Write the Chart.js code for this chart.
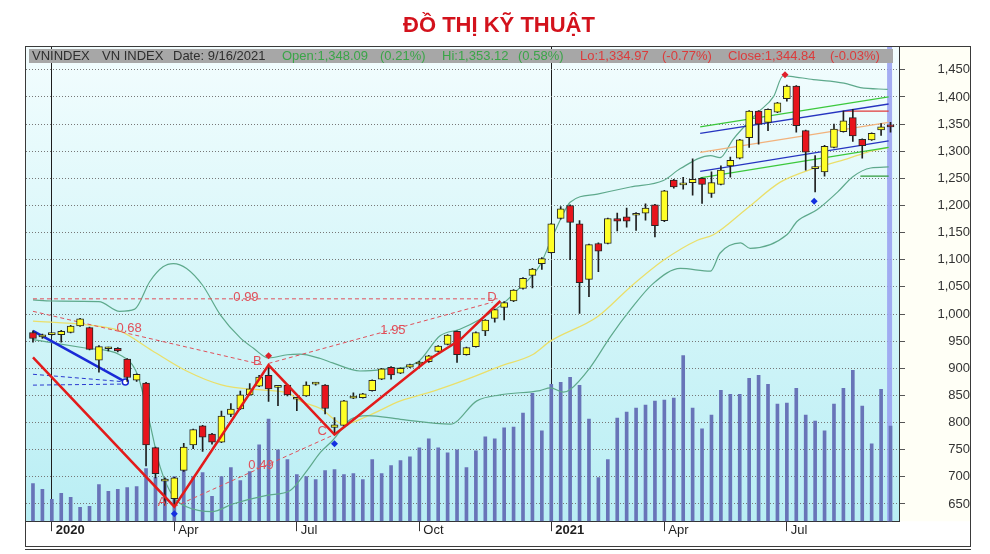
<!DOCTYPE html>
<html lang="vi">
<head>
<meta charset="utf-8">
<title>Đồ thị kỹ thuật – VN-Index</title>
<script src="https://cdn.jsdelivr.net/npm/chart.js@4.4.1/dist/chart.umd.min.js"></script>
<style>
  html, body { margin: 0; padding: 0; background: #fff; }
  #wrap { position: relative; width: 990px; height: 554px; overflow: hidden; }
  #chart { position: absolute; left: 0; top: 0; }
  #title {
    position: absolute; left: 0; top: 12px; width: 998px; text-align: center;
    font: bold 22px "Liberation Sans", Arial, sans-serif;
    color: #d3121c;
  }
</style>
</head>
<body>
<div id="wrap">
  <canvas id="chart" width="990" height="554"></canvas>
  <div id="title">ĐỒ THỊ KỸ THUẬT</div>
</div>
<script>
/* --------------------------------------------------------------
   DỮ LIỆU – nến tuần VN-Index (cuối 12/2019 -> 16/9/2021)
   -------------------------------------------------------------- */
const opens = [966, 958, 962, 962, 966, 978, 975, 915, 936, 937,
  917, 878, 873, 754, 692, 660, 712, 759, 794, 779,
  764, 815, 825, 851, 867, 887, 865, 869, 843, 849,
  871, 869, 791, 795, 845, 846, 859, 880, 902, 891,
  902, 908, 912, 931, 944, 968, 925, 940, 969, 992,
  1012, 1024, 1047, 1071, 1093, 1113, 1176, 1200, 1166, 1064,
  1130, 1130, 1176, 1179, 1182, 1186, 1201, 1172, 1247, 1238,
  1242, 1250, 1222, 1239, 1273, 1287, 1325, 1374, 1353, 1372,
  1397, 1420, 1338, 1268, 1262, 1307, 1336, 1362, 1322, 1321,
  1339, 1348.09];
const highs = [969, 963, 964, 970, 979, 992, 976, 942, 939, 938,
  918, 890, 874, 755, 698, 699, 762, 788, 795, 780,
  821, 835, 858, 872, 887, 906, 867, 870, 845, 875,
  874, 870, 809, 841, 855, 854, 879, 900, 903, 901,
  908, 913, 924, 942, 962, 969, 939, 967, 990, 1009,
  1023, 1045, 1067, 1084, 1104, 1167, 1198, 1201, 1172, 1129,
  1131, 1177, 1186, 1195, 1187, 1203, 1202, 1228, 1248, 1252,
  1286, 1251, 1262, 1273, 1289, 1322, 1375, 1375, 1378, 1390,
  1422, 1421, 1339, 1292, 1311, 1350, 1374, 1377, 1323, 1334,
  1351, 1353.12];
const lows = [948, 955, 961, 948, 965, 977, 934, 893, 932, 930,
  876, 876, 720, 698, 648, 645, 710, 752, 747, 760,
  763, 811, 824, 850, 866, 839, 831, 849, 822, 848,
  869, 816, 778, 794, 844, 845, 858, 879, 880, 890,
  901, 904, 911, 930, 943, 911, 924, 939, 960, 985,
  989, 1023, 1046, 1048, 1082, 1112, 1175, 1100, 1001, 1032,
  1078, 1129, 1153, 1160, 1154, 1173, 1142, 1170, 1232, 1230,
  1219, 1204, 1215, 1238, 1252, 1286, 1307, 1313, 1338, 1371,
  1392, 1335, 1265, 1225, 1254, 1306, 1335, 1318, 1287, 1320,
  1329, 1334.97];
const closes = [955, 961, 963, 968, 978, 991, 935, 940, 937, 932,
  883, 889, 759, 706, 693, 698, 755, 787, 773, 764,
  812, 825, 851, 862, 884, 862, 866, 851, 844, 869,
  872, 826, 796, 840, 849, 853, 878, 899, 888, 900,
  907, 909, 923, 941, 961, 925, 938, 966, 989, 1008,
  1021, 1044, 1066, 1083, 1102, 1166, 1194, 1169, 1058, 1128,
  1116, 1176, 1171, 1171, 1183, 1195, 1163, 1227, 1234, 1239,
  1248, 1239, 1242, 1265, 1283, 1321, 1374, 1350, 1377, 1389,
  1420, 1347, 1298, 1269, 1309, 1341, 1356, 1328, 1310, 1333,
  1345, 1344.84];
// khối lượng (đơn vị tương đối, đọc theo chiều cao cột)
const volumes = [190, 160, 110, 140, 120, 70, 75, 185, 150, 160,
  170, 175, 265, 220, 215, 225, 255, 225, 245, 125,
  225, 270, 205, 250, 385, 515, 360, 310, 235, 225,
  210, 255, 260, 235, 240, 210, 310, 240, 280, 305,
  325, 370, 415, 370, 345, 360, 270, 355, 425, 415,
  470, 475, 545, 645, 455, 690, 700, 725, 685, 515,
  220, 310, 520, 550, 570, 585, 605, 610, 620, 835,
  570, 465, 535, 660, 640, 640, 720, 735, 690, 590,
  595, 670, 535, 505, 455, 590, 670, 760, 580, 390,
  665, 480];

// trục thời gian: chỉ số tuần -> nhãn
const tickIdx  = [2, 15, 28, 41, 55, 67, 80];
const tickText = ['2020', 'Apr', 'Jul', 'Oct', '2021', 'Apr', 'Jul'];
const priceTicks = [650, 700, 750, 800, 850, 900, 950, 1000, 1050, 1100, 1150, 1200, 1250, 1300, 1350, 1400, 1450];

// Bollinger + MA  [chỉ số tuần, giá]
const upperBand = [[0, 1026], [2, 1024], [7, 1023], [9.2, 1005], [10.8, 1009], [12.4, 1060], [13.8, 1087],
  [14.9, 1093], [16.3, 1084], [18, 1053], [19.9, 998], [22, 956], [23.4, 937], [25, 919], [27, 925],
  [28.3, 926], [30.5, 918], [31.8, 910], [34.7, 895], [37.2, 898], [40.8, 911], [43.2, 960], [45.3, 972],
  [47.5, 991], [49.6, 1015], [51.4, 1044], [53.8, 1090], [54.9, 1133], [56, 1175], [57, 1206], [59.9, 1221],
  [63.4, 1234], [66.9, 1246], [68.7, 1268], [71.9, 1292], [72.9, 1288], [74.3, 1322], [76.9, 1371],
  [78.6, 1401], [79.6, 1439], [80.4, 1438], [82.8, 1432], [84.6, 1429], [86.4, 1424], [87.8, 1417], [90.7, 1414]];
const lowerBand = [[0, 953], [2.1, 947], [5.7, 937], [9.2, 925], [11.1, 888], [12.1, 822], [13.5, 718],
  [14.9, 663], [16.3, 645], [19, 636], [21.2, 650], [24.8, 666], [27.3, 675], [29.1, 712], [30.5, 745],
  [31.8, 767], [33.7, 806], [35.5, 813], [39, 806], [44.3, 797], [47.1, 840], [49.6, 851], [53.8, 859],
  [54.9, 864], [56.3, 856], [57, 861], [59.1, 901], [61.3, 959], [63.4, 1008], [65.8, 1056], [68.7, 1084],
  [71.9, 1079], [72.9, 1112], [75.1, 1131], [76.1, 1121], [80, 1146], [81.1, 1171], [83.2, 1192],
  [85.4, 1225], [87, 1253], [88.9, 1269], [90.8, 1271]];
const maLine = [[0, 987], [5.7, 980], [9.2, 969], [12.7, 932], [16.3, 895], [19.9, 870], [23.4, 861],
  [27, 855], [28.3, 840], [30.5, 826], [33, 797], [35.5, 812], [39, 840], [42.5, 858], [46.1, 880],
  [49.6, 904], [53.1, 926], [54.9, 950], [59.9, 995], [63.4, 1050], [66.9, 1099], [70.5, 1136],
  [72.2, 1146], [75.8, 1195], [79.3, 1243], [82.8, 1268], [86.4, 1286], [88.5, 1298], [90.8, 1307]];

// đường kỹ thuật vẽ tay
const zigzag   = [[0, 920], [15, 645], [25, 906], [32, 778], [33.4, 797], [41.8, 914], [45.3, 952], [49.6, 1024]];
const blueDown = [[0, 969], [9.8, 875]];
const blueDash1 = [[0, 889], [9.8, 875]];
const blueDash2 = [[0, 869], [9.8, 871]];
const fib099 = [[0, 1028], [49.3, 1028]];
const fib068 = [[0, 1005], [24.5, 906]];
const fib195 = [[25, 909], [48.8, 1022]];
const fib049 = [[15, 645], [32, 778]];
const chanGreenTop = [[70.8, 1345], [90.8, 1400]];
const chanBlueTop  = [[70.8, 1333], [90.8, 1387]];
const chanMid      = [[70.8, 1298], [90.8, 1353]];
const chanBlueBot  = [[70.8, 1263], [90.8, 1319]];
const chanGreenBot = [[70.8, 1251], [90.8, 1307]];
const resistRed    = [[86, 1374], [90.8, 1374]];
const supportGreen = [[87.8, 1254], [90.8, 1254]];
const redMarks  = [[25, 923], [79.8, 1441]];
const blueMarks = [[15, 632], [32, 761], [82.9, 1208]];
const todayIdx = 90.9;

const annoText = ['0.99', '0.68', '1.95', '0.49', 'A', 'B', 'C', 'D'];
const annoX = [22.6, 10.2, 38.2, 24.2, 13.7, 23.8, 30.7, 48.7];
const annoY = [1031, 973, 970, 721, 652, 913, 783, 1030];

const headerText  = ['VNINDEX', 'VN INDEX', 'Date: 9/16/2021', 'Open:1,348.09', '(0.21%)', 'Hi:1,353.12',
  '(0.58%)', 'Lo:1,334.97', '(-0.77%)', 'Close:1,344.84', '(-0.03%)'];
const headerColor = ['#2e2e2e', '#2e2e2e', '#2e2e2e', '#3aa548', '#3aa548', '#3aa548',
  '#3aa548', '#dc3b3b', '#dc3b3b', '#dc3b3b', '#dc3b3b'];

/* --------------------------------------------------------------
   DATASETS
   -------------------------------------------------------------- */
const idx = opens.map((_, i) => i);
const pt = p => ({ x: p[0], y: p[1] });

function lineSet(pairs, color, width, order, extra) {
  return Object.assign({
    type: 'line', data: pairs.map(pt), borderColor: color, borderWidth: width,
    pointRadius: 0, fill: false, order: order, yAxisID: 'y'
  }, extra || {});
}
const smooth = { tension: 0.35, cubicInterpolationMode: 'monotone' };
const dashed = { borderDash: [4, 3] };

const datasets = [
  // đường ngày hiện tại
  lineSet([[todayIdx, 600], [todayIdx, 1500]], 'rgba(150,158,240,0.85)', 5, 30),
  {
    type: 'bar', yAxisID: 'yv', order: 20, grouped: false, barThickness: 3,
    data: idx.map(i => ({ x: i, y: volumes[i] })),
    backgroundColor: '#6874b8', borderWidth: 0
  },
  lineSet(upperBand, '#5ea98c', 1.2, 12, smooth),
  lineSet(lowerBand, '#5ea98c', 1.2, 12, smooth),
  lineSet(maLine, '#eadf6a', 1.3, 12, smooth),
  lineSet(fib099, '#e0505a', 1, 10, dashed),
  lineSet(fib068, '#e0505a', 1, 10, dashed),
  lineSet(fib195, '#e0505a', 1, 10, dashed),
  lineSet(fib049, '#e0505a', 1, 10, dashed),
  lineSet(blueDash1, '#2a3ad0', 1, 10, dashed),
  lineSet(blueDash2, '#2a3ad0', 1, 10, dashed),
  lineSet(chanGreenTop, '#3cc83c', 1.3, 9),
  lineSet(chanBlueTop, '#2634c0', 1.3, 9),
  lineSet(chanMid, '#f2b27c', 1.3, 9),
  lineSet(chanBlueBot, '#2634c0', 1.3, 9),
  lineSet(chanGreenBot, '#3cc83c', 1.3, 9),
  lineSet(resistRed, '#e03a3a', 1.3, 9),
  lineSet(supportGreen, '#2f9a3a', 1.3, 9),
  lineSet(blueDown, '#1a2ad6', 2.5, 8, {
    pointRadius: [0, 3], pointBackgroundColor: '#fff', pointBorderColor: '#1a2ad6', pointBorderWidth: 1.5
  }),
  {
    type: 'bar', order: 6, grouped: false, barThickness: 1, yAxisID: 'y',
    data: idx.map(i => ({ x: i, y: [lows[i], highs[i]] })),
    backgroundColor: '#1e1e1e', borderWidth: 0
  },
  {
    type: 'bar', order: 5, grouped: false, barThickness: 7, minBarLength: 2, yAxisID: 'y',
    data: idx.map(i => ({ x: i, y: [opens[i], closes[i]] })),
    backgroundColor: idx.map(i => closes[i] >= opens[i] ? '#ffff26' : '#e8141c'),
    borderColor: '#262626', borderWidth: 1, borderSkipped: false
  },
  lineSet(zigzag, '#e21b1b', 2.5, 3),
  lineSet(redMarks, '#e0202a', 0, 2, {
    showLine: false, pointRadius: 3.5, pointStyle: 'rectRot', pointBackgroundColor: '#e0202a', pointBorderWidth: 0
  }),
  lineSet(blueMarks, '#1430e0', 0, 2, {
    showLine: false, pointRadius: 3.5, pointStyle: 'rectRot', pointBackgroundColor: '#1430e0', pointBorderWidth: 0
  })
];

/* --------------------------------------------------------------
   PLUGINS: nền, thanh tiêu đề, nhãn, khung
   -------------------------------------------------------------- */
const decor = {
  id: 'decor',
  beforeDraw(chart) {
    const { ctx, chartArea: a } = chart;
    const g = ctx.createLinearGradient(0, a.top, 0, a.bottom);
    g.addColorStop(0, '#f3fdfe');
    g.addColorStop(0.5, '#d6f6f9');
    g.addColorStop(1, '#b9eef4');
    ctx.save();
    ctx.fillStyle = g;
    ctx.fillRect(a.left, a.top, a.right - a.left, a.bottom - a.top);
    ctx.fillStyle = '#fffff6';
    ctx.fillRect(a.right, a.top, 71, a.bottom - a.top);
    ctx.restore();
  },
  afterDraw(chart) {
    const { ctx, scales } = chart;
    ctx.save();
    // nhãn fibonacci / A B C D
    ctx.font = '13px "Liberation Sans", Arial, sans-serif';
    ctx.fillStyle = '#e0505a';
    ctx.textAlign = 'center';
    ctx.textBaseline = 'middle';
    annoText.forEach((t, i) => {
      ctx.fillText(t, scales.x.getPixelForValue(annoX[i]), scales.y.getPixelForValue(annoY[i]));
    });
    // thanh thông tin
    ctx.fillStyle = '#a7a7a7';
    ctx.fillRect(29, 49, 864, 14);
    ctx.textAlign = 'left';
    ctx.font = '13px "Liberation Sans", Arial, sans-serif';
    const hx = [32, 102, 173, 282, 380, 442, 518, 580, 662, 728, 830];
    headerText.forEach((t, i) => {
      ctx.fillStyle = headerColor[i];
      ctx.fillText(t, hx[i], 56.5);
    });
    // khung ngoài
    ctx.strokeStyle = '#3a3a3a';
    ctx.lineWidth = 1;
    ctx.strokeRect(25.5, 46.5, 945, 500);
    ctx.beginPath();
    ctx.moveTo(25, 549.5);
    ctx.lineTo(971, 549.5);
    ctx.stroke();
    ctx.restore();
  }
};

/* --------------------------------------------------------------
   CHART.JS
   -------------------------------------------------------------- */
const chart = new Chart(document.getElementById('chart'), {
  type: 'bar',
  data: { datasets },
  options: {
    responsive: false,
    animation: false,
    layout: { padding: { left: 26, top: 47, right: 20, bottom: 9 } },
    plugins: { legend: { display: false }, tooltip: { enabled: false }, title: { display: false } },
    scales: {
      x: {
        type: 'linear', min: -0.74, max: 91.9, offset: false,
        afterBuildTicks: s => { s.ticks = tickIdx.map(v => ({ value: v })); },
        afterFit: s => { s.height = 20; },
        ticks: {
          autoSkip: false, maxRotation: 0, align: 'start', labelOffset: 4, padding: -9,
          color: '#1e1e1e',
          font: c => ({ size: 13, family: '"Liberation Sans", Arial, sans-serif',
                        weight: /^\d{4}$/.test(tickText[c.index]) ? 'bold' : 'normal' }),
          callback: (v, i) => tickText[i]
        },
        grid: {
          offset: false, tickLength: 10, tickColor: '#333', lineWidth: 1,
          color: c => (c.tick && (c.tick.value === 2 || c.tick.value === 55)) ? '#1e1e1e' : 'rgba(0,0,0,0)'
        },
        border: { color: '#333' }
      },
      y: {
        type: 'linear', position: 'right', min: 618.3, max: 1492,
        afterBuildTicks: s => { s.ticks = priceTicks.map(v => ({ value: v })); },
        afterFit: s => { s.width = 71; },
        ticks: {
          color: '#333', crossAlign: 'far', padding: 25,
          font: { size: 13, family: '"Liberation Sans", Arial, sans-serif' },
          callback: v => Number(v).toLocaleString('en-US')
        },
        grid: { color: '#777', lineWidth: 1, tickLength: 6, tickColor: '#555' },
        border: { color: '#333', dash: [1, 2] }
      },
      yv: { display: false, min: 0, max: 2390 }
    }
  },
  plugins: [decor]
});
</script>
</body>
</html>
